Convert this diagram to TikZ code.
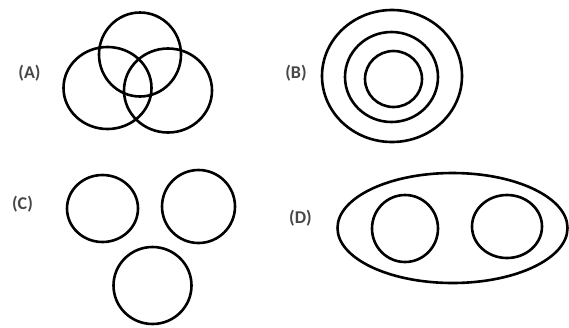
\documentclass[tikz,border=0pt]{standalone}
\usepackage{fontspec}
\setmainfont{Carlito}
\begin{document}
\begin{tikzpicture}[x=1pt,y=1pt,yscale=-1,xscale=1,
  ring/.style={line width=2.6pt},
  tag/.style={inner sep=0.75pt,text=black!72,font=\fontsize{18}{20}\selectfont\bfseries}]
\useasboundingbox (0,0) rectangle (569,327);

%Shape: Circle (A) top
\draw [ring] (140,54.5) ellipse (41 and 42);
%Shape: Circle (A) left
\draw [ring] (107.5,88) ellipse (44 and 41);
%Shape: Circle (A) right
\draw [ring] (168,90.5) ellipse (44 and 42);

%Shape: Circle (B) outer
\draw [ring] (392,76) ellipse (70 and 66);
%Shape: Circle (B) middle
\draw [ring] (391.5,77) ellipse (46.5 and 45);
%Shape: Circle (B) inner
\draw [ring] (393.5,79) ellipse (28.5 and 28);

%Shape: Circle (C) left
\draw [ring] (102.5,208.5) ellipse (35.5 and 33.5);
%Shape: Circle (C) right
\draw [ring] (198.5,206.5) ellipse (36.5 and 36.5);
%Shape: Circle (C) bottom
\draw [ring] (152.5,285.5) ellipse (39 and 38.5);

%Shape: Ellipse (D) outer
\draw [ring] (452.5,228) ellipse (115 and 55);
%Shape: Circle (D) left
\draw [ring] (405,228.5) ellipse (33 and 33.5);
%Shape: Circle (D) right
\draw [ring] (507,226.5) ellipse (35 and 31.5);

% Text Node
\node [tag] (labA) at (29.5,73) {(A)};
% Text Node
\node [tag] (labB) at (296,73) {(B)};
% Text Node
\node [tag] (labC) at (22.5,204) {(C)};
% Text Node
\node [tag] (labD) at (300.5,218) {(D)};

\end{tikzpicture}
\end{document}
